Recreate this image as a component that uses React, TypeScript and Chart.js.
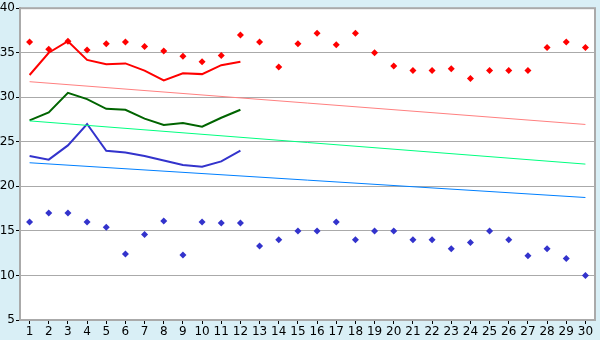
import React, { useEffect, useRef } from "react";
import { Chart, registerables } from "chart.js";

Chart.register(...registerables);

const categories = Array.from({ length: 30 }, (_, i) => String(i + 1));

const redPoints = [36.2, 35.4, 36.3, 35.3, 36.0, 36.2, 35.7, 35.2, 34.6, 34.0, 34.7, 37.0, 36.2, 33.4, 36.0, 37.2, 35.9, 37.2, 35.0, 33.5, 33.0, 33.0, 33.2, 32.1, 33.0, 33.0, 33.0, 35.6, 36.2, 35.6];
const bluePoints = [16, 17, 17, 16, 15.4, 12.4, 14.6, 16.1, 12.3, 16, 15.9, 15.9, 13.3, 14, 15, 15, 16, 14, 15, 15, 14, 14, 13, 13.7, 15, 14, 12.2, 13, 11.9, 10];

const redLine = [32.5, 35.0, 36.3, 34.2, 33.7, 33.8, 33.0, 31.9, 32.7, 32.6, 33.6, 34.0];
const greenLine = [27.4, 28.3, 30.5, 29.8, 28.7, 28.6, 27.6, 26.9, 27.1, 26.7, 27.7, 28.6];
const blueLine = [23.4, 23.0, 24.6, 27.0, 24.0, 23.8, 23.4, 22.9, 22.4, 22.2, 22.8, 24.0];

// trend line endpoints (first and last category)
const pinkTrend = [31.75, 26.95];
const greenTrend = [27.35, 22.5];
const blueTrend = [22.65, 18.75];

const yTicks = { min: 5, max: 40, step: 5 };

function endpoints(ends: number[]) {
  const arr: (number | null)[] = categories.map(() => null);
  arr[0] = ends[0];
  arr[categories.length - 1] = ends[1];
  return arr;
}

const bgPlugin = {
  id: "bgPlugin",
  beforeDraw(chart: any) {
    const { ctx, chartArea } = chart;
    ctx.save();
    ctx.fillStyle = "#d9eff6";
    ctx.fillRect(0, 0, chart.width, chart.height);
    ctx.fillStyle = "#ffffff";
    ctx.fillRect(chartArea.left, chartArea.top, chartArea.right - chartArea.left, chartArea.bottom - chartArea.top);
    ctx.restore();
  },
  afterDraw(chart: any) {
    const { ctx, chartArea } = chart;
    ctx.save();
    ctx.strokeStyle = "#aaaaaa";
    ctx.lineWidth = 2;
    ctx.strokeRect(chartArea.left, chartArea.top, chartArea.right - chartArea.left, chartArea.bottom - chartArea.top);
    ctx.restore();
  },
};

export default function App() {
  const ref = useRef<HTMLCanvasElement>(null);
  useEffect(() => {
    const ctx = ref.current!.getContext("2d")!;
    const font = { family: "DejaVu Sans", size: 12 };
    const chart = new Chart(ctx, {
      type: "line",
      data: {
        labels: categories,
        datasets: [
          { data: endpoints(pinkTrend), borderColor: "#ff8080", borderWidth: 1, pointRadius: 0, spanGaps: true, fill: false },
          { data: endpoints(greenTrend), borderColor: "#00ff80", borderWidth: 1, pointRadius: 0, spanGaps: true, fill: false },
          { data: endpoints(blueTrend), borderColor: "#0080ff", borderWidth: 1, pointRadius: 0, spanGaps: true, fill: false },
          { data: redLine, borderColor: "#ff0000", borderWidth: 2, pointRadius: 0, fill: false },
          { data: greenLine, borderColor: "#006400", borderWidth: 2, pointRadius: 0, fill: false },
          { data: blueLine, borderColor: "#3333cc", borderWidth: 2, pointRadius: 0, fill: false },
          { data: redPoints, showLine: false, pointStyle: "rectRot", pointRadius: 3.5, backgroundColor: "#ff0000", borderColor: "#ff0000", borderWidth: 0 },
          { data: bluePoints, showLine: false, pointStyle: "rectRot", pointRadius: 3.5, backgroundColor: "#3333cc", borderColor: "#3333cc", borderWidth: 0 },
        ],
      },
      options: {
        animation: false,
        responsive: false,
        maintainAspectRatio: false,
        layout: { padding: { top: 5, right: 5, left: 0, bottom: 0 } },
        plugins: { legend: { display: false }, tooltip: { enabled: false } },
        scales: {
          x: {
            offset: true,
            grid: { drawOnChartArea: false, drawTicks: true, tickLength: 4, tickColor: "#000000", offset: false },
            border: { color: "#aaaaaa", width: 2 },
            ticks: { color: "#000000", font, padding: 1, maxRotation: 0, autoSkip: false },
            afterFit(scale: any) { scale.height = 20; },
          },
          y: {
            min: yTicks.min,
            max: yTicks.max,
            grid: { color: "#aaaaaa", lineWidth: 1, tickLength: 4, tickColor: "#000000" },
            border: { color: "#aaaaaa", width: 2 },
            ticks: { stepSize: yTicks.step, color: "#000000", font, padding: 1 },
            afterFit(scale: any) { scale.width = 20; },
          },
        },
      },
      plugins: [bgPlugin],
    });
    return () => chart.destroy();
  }, []);
  return (
    <div style={{ position: "fixed", left: 0, top: 0, width: 600, height: 340 }}>
      <canvas ref={ref} width={600} height={340} style={{ display: "block" }} />
    </div>
  );
}
